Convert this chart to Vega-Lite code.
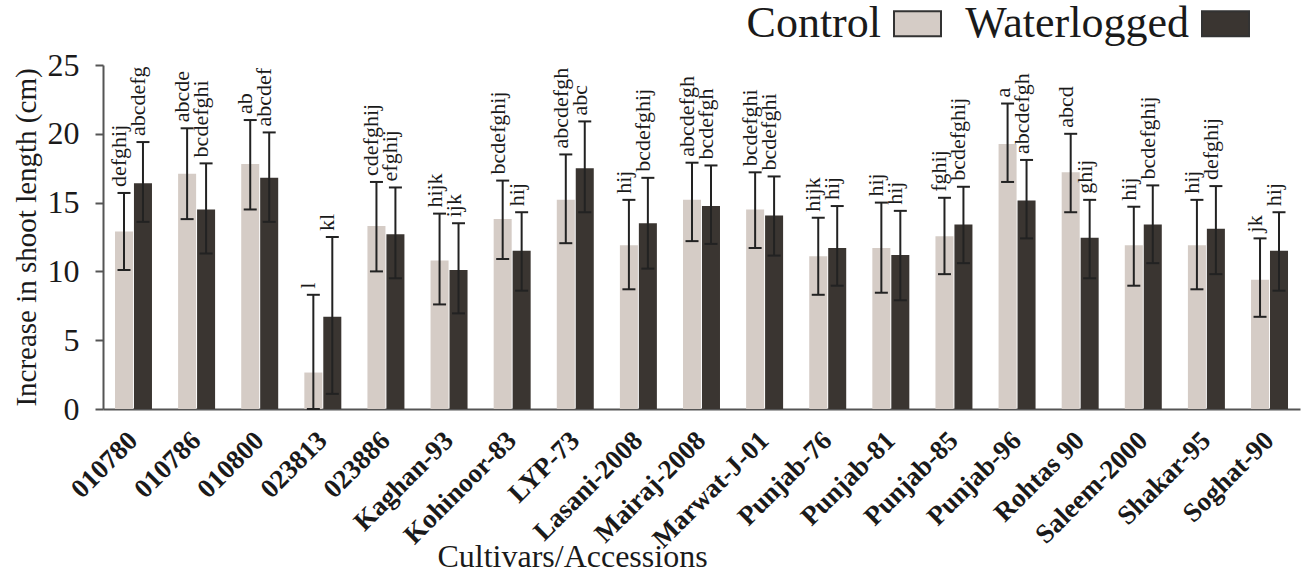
{
  "$schema": "https://vega.github.io/schema/vega-lite/v6.json",
  "width": 1197,
  "height": 344,
  "autosize": "none",
  "padding": {"left": 103, "top": 65, "right": 4, "bottom": 164},
  "background": "white",
  "config": {
    "font": "Liberation Serif",
    "view": {"stroke": null},
    "text": {"font": "Liberation Serif"},
    "axis": {"grid": false, "domainColor": "#555", "domainWidth": 2, "tickColor": "#555", "tickWidth": 2, "labelColor": "#1a1a1a", "titleColor": "#1a1a1a", "titleFontWeight": "normal", "labelFont": "Liberation Serif", "titleFont": "Liberation Serif"}
  },
  "data": {"values": [
    {"cultivar": "010780", "treatment": "Control", "mean": 12.9, "lo": 10.1, "hi": 15.7, "letter": "defghij"},
    {"cultivar": "010780", "treatment": "Waterlogged", "mean": 16.4, "lo": 13.6, "hi": 19.4, "letter": "abcdefg"},
    {"cultivar": "010786", "treatment": "Control", "mean": 17.1, "lo": 13.8, "hi": 20.4, "letter": "abcde"},
    {"cultivar": "010786", "treatment": "Waterlogged", "mean": 14.5, "lo": 11.3, "hi": 17.85, "letter": "bcdefghi"},
    {"cultivar": "010800", "treatment": "Control", "mean": 17.8, "lo": 14.5, "hi": 21.0, "letter": "ab"},
    {"cultivar": "010800", "treatment": "Waterlogged", "mean": 16.8, "lo": 13.6, "hi": 20.1, "letter": "abcdef"},
    {"cultivar": "023813", "treatment": "Control", "mean": 2.65, "lo": 0, "hi": 8.3, "letter": "l"},
    {"cultivar": "023813", "treatment": "Waterlogged", "mean": 6.7, "lo": 1.1, "hi": 12.5, "letter": "kl"},
    {"cultivar": "023886", "treatment": "Control", "mean": 13.3, "lo": 10.0, "hi": 16.5, "letter": "cdefghij"},
    {"cultivar": "023886", "treatment": "Waterlogged", "mean": 12.7, "lo": 9.5, "hi": 16.1, "letter": "efghij"},
    {"cultivar": "Kaghan-93", "treatment": "Control", "mean": 10.8, "lo": 7.6, "hi": 14.2, "letter": "hijk"},
    {"cultivar": "Kaghan-93", "treatment": "Waterlogged", "mean": 10.1, "lo": 6.95, "hi": 13.5, "letter": "ijk"},
    {"cultivar": "Kohinoor-83", "treatment": "Control", "mean": 13.8, "lo": 10.9, "hi": 16.6, "letter": "bcdefghij"},
    {"cultivar": "Kohinoor-83", "treatment": "Waterlogged", "mean": 11.5, "lo": 8.6, "hi": 14.3, "letter": "hij"},
    {"cultivar": "LYP-73", "treatment": "Control", "mean": 15.2, "lo": 12.05, "hi": 18.5, "letter": "abcdefgh"},
    {"cultivar": "LYP-73", "treatment": "Waterlogged", "mean": 17.5, "lo": 14.3, "hi": 20.9, "letter": "abc"},
    {"cultivar": "Lasani-2008", "treatment": "Control", "mean": 11.9, "lo": 8.7, "hi": 15.2, "letter": "hij"},
    {"cultivar": "Lasani-2008", "treatment": "Waterlogged", "mean": 13.5, "lo": 10.2, "hi": 16.8, "letter": "bcdefghij"},
    {"cultivar": "Mairaj-2008", "treatment": "Control", "mean": 15.2, "lo": 12.2, "hi": 17.9, "letter": "abcdefgh"},
    {"cultivar": "Mairaj-2008", "treatment": "Waterlogged", "mean": 14.75, "lo": 12.0, "hi": 17.7, "letter": "bcdefgh"},
    {"cultivar": "Marwat-J-01", "treatment": "Control", "mean": 14.5, "lo": 11.7, "hi": 17.2, "letter": "bcdefghi"},
    {"cultivar": "Marwat-J-01", "treatment": "Waterlogged", "mean": 14.07, "lo": 11.15, "hi": 16.9, "letter": "bcdefghi"},
    {"cultivar": "Punjab-76", "treatment": "Control", "mean": 11.1, "lo": 8.3, "hi": 13.9, "letter": "hijk"},
    {"cultivar": "Punjab-76", "treatment": "Waterlogged", "mean": 11.7, "lo": 8.96, "hi": 14.75, "letter": "hij"},
    {"cultivar": "Punjab-81", "treatment": "Control", "mean": 11.7, "lo": 8.45, "hi": 15.0, "letter": "hij"},
    {"cultivar": "Punjab-81", "treatment": "Waterlogged", "mean": 11.2, "lo": 7.9, "hi": 14.4, "letter": "hij"},
    {"cultivar": "Punjab-85", "treatment": "Control", "mean": 12.55, "lo": 9.8, "hi": 15.35, "letter": "fghij"},
    {"cultivar": "Punjab-85", "treatment": "Waterlogged", "mean": 13.4, "lo": 10.6, "hi": 16.15, "letter": "bcdefghij"},
    {"cultivar": "Punjab-96", "treatment": "Control", "mean": 19.26, "lo": 16.5, "hi": 22.2, "letter": "a"},
    {"cultivar": "Punjab-96", "treatment": "Waterlogged", "mean": 15.16, "lo": 12.4, "hi": 18.1, "letter": "abcdefgh"},
    {"cultivar": "Rohtas 90", "treatment": "Control", "mean": 17.2, "lo": 14.3, "hi": 20.0, "letter": "abcd"},
    {"cultivar": "Rohtas 90", "treatment": "Waterlogged", "mean": 12.45, "lo": 9.5, "hi": 15.2, "letter": "ghij"},
    {"cultivar": "Saleem-2000", "treatment": "Control", "mean": 11.9, "lo": 8.96, "hi": 14.7, "letter": "hij"},
    {"cultivar": "Saleem-2000", "treatment": "Waterlogged", "mean": 13.4, "lo": 10.6, "hi": 16.25, "letter": "bcdefghij"},
    {"cultivar": "Shakar-95", "treatment": "Control", "mean": 11.9, "lo": 8.7, "hi": 15.2, "letter": "hij"},
    {"cultivar": "Shakar-95", "treatment": "Waterlogged", "mean": 13.1, "lo": 9.8, "hi": 16.2, "letter": "defghij"},
    {"cultivar": "Soghat-90", "treatment": "Control", "mean": 9.4, "lo": 6.7, "hi": 12.4, "letter": "jk"},
    {"cultivar": "Soghat-90", "treatment": "Waterlogged", "mean": 11.5, "lo": 8.6, "hi": 14.3, "letter": "hij"}
  ]},
  "encoding": {
    "x": {
      "field": "cultivar", "type": "nominal", "sort": null,
      "scale": {"paddingInner": 0.414, "paddingOuter": 0.19},
      "axis": {"title": "Cultivars/Accessions", "labelAngle": -45, "labelAlign": "right", "labelBaseline": "middle", "labelPadding": 27, "ticks": false, "labelFontSize": 27, "labelFontWeight": "bold", "titleFontSize": 32, "titleX": 469, "titleY": 157, "titleAlign": "center", "titleBaseline": "alphabetic", "labelOverlap": false, "labelLimit": 0}
    },
    "xOffset": {"field": "treatment", "type": "nominal", "sort": ["Control", "Waterlogged"], "scale": {"paddingInner": 0.05}}
  },
  "layer": [
    {
      "mark": {"type": "bar"},
      "encoding": {
        "y": {"field": "mean", "type": "quantitative", "title": "Increase in shoot length (cm)", "scale": {"domain": [0, 25], "nice": false},
          "axis": {"values": [0, 5, 10, 15, 20, 25], "tickSize": 8, "labelFontSize": 32, "labelPadding": 16, "titleFontSize": 29, "titlePadding": 6}},
        "color": {"field": "treatment", "type": "nominal", "sort": ["Control", "Waterlogged"],
          "scale": {"domain": ["Control", "Waterlogged"], "range": ["#d5ccc6", "#3a3531"]},
          "legend": {"title": null, "orient": "none", "legendX": 790, "legendY": -66, "direction": "horizontal",
            "labelFontSize": 44, "labelFont": "Liberation Serif", "labelColor": "#1a1a1a", "labelLimit": 0,
            "symbolType": "M-1,-0.53H1V0.53H-1Z", "symbolSize": 2209, "symbolStrokeColor": "#333", "symbolStrokeWidth": 2, "symbolOpacity": 1,
            "labelAlign": "right", "labelOffset": -61, "columnPadding": 20}}
      }
    },
    {
      "mark": {"type": "rule", "strokeWidth": 2, "color": "#222"},
      "encoding": {
        "y": {"field": "lo", "type": "quantitative", "title": "Increase in shoot length (cm)"},
        "y2": {"field": "hi"}
      }
    },
    {
      "mark": {"type": "tick", "thickness": 2, "size": 13, "color": "#222", "opacity": 1},
      "encoding": {"y": {"field": "lo", "type": "quantitative", "title": "Increase in shoot length (cm)"}}
    },
    {
      "mark": {"type": "tick", "thickness": 2, "size": 13, "color": "#222", "opacity": 1},
      "encoding": {"y": {"field": "hi", "type": "quantitative", "title": "Increase in shoot length (cm)"}}
    },
    {
      "mark": {"type": "text", "angle": 270, "align": "left", "baseline": "alphabetic", "dx": 6, "dy": 2, "fontSize": 22, "color": "#1a1a1a", "font": "Liberation Serif"},
      "encoding": {
        "y": {"field": "hi", "type": "quantitative", "title": "Increase in shoot length (cm)"},
        "text": {"field": "letter"}
      }
    }
  ]
}
